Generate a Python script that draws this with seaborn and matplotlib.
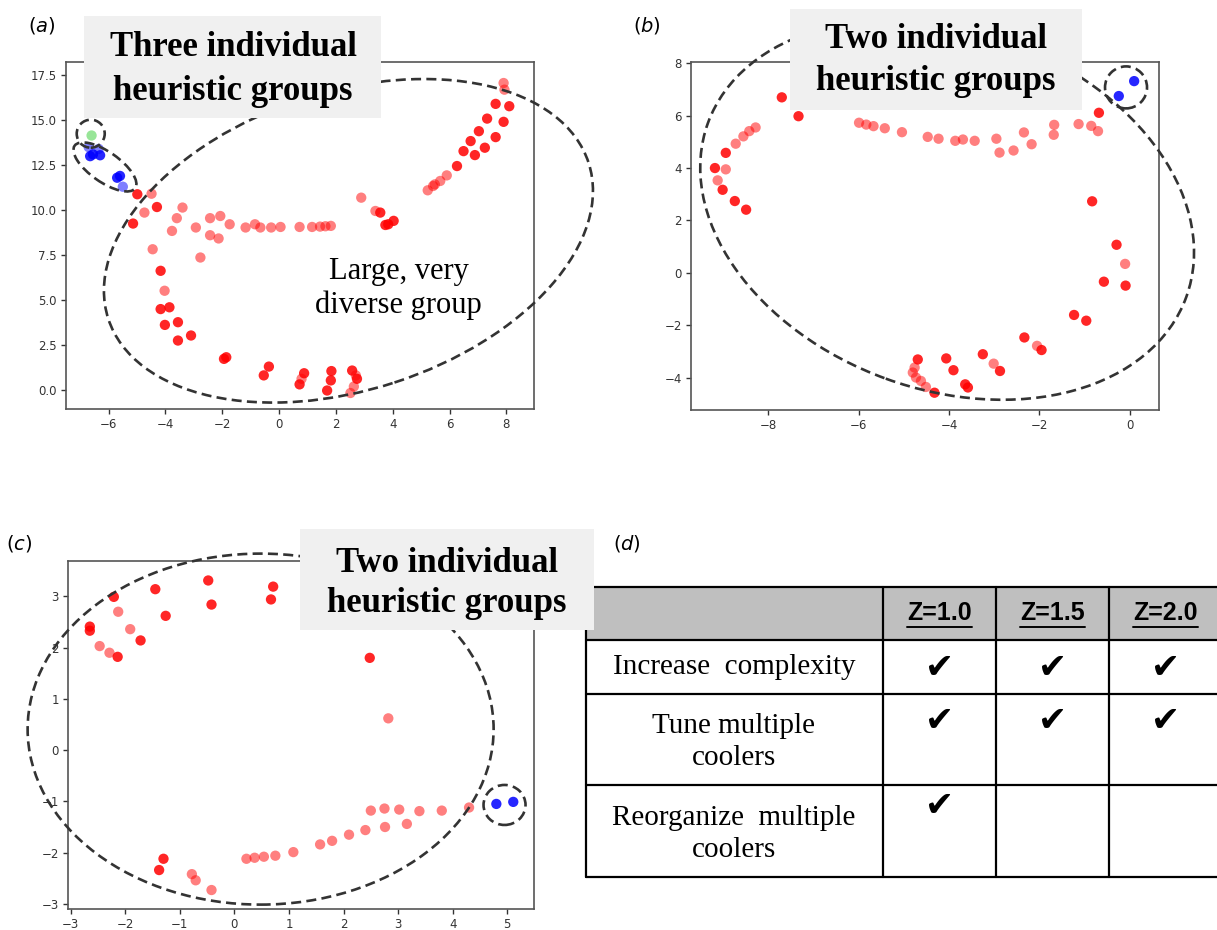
import pandas as pd
import matplotlib.pyplot as plt
import seaborn as sns
from matplotlib.patches import Ellipse, Rectangle
from matplotlib.transforms import ScaledTranslation, IdentityTransform
from matplotlib.lines import Line2D

# ---------------- data ----------------
# panel (a): embedding coordinates, darker markers are stacked points
a_red_dark_x = [-4.99, -4.30, -5.14, -4.17, -4.17, -3.86, -4.02, -3.56, -3.56, -3.10,
                3.74, 3.84, 4.03, 3.56, -1.94, -1.86, -0.54, -0.36, 0.72, 0.88,
                1.69, 1.82, 1.84, 2.57, 2.74, 6.26, 6.49, 6.74, 6.89, 7.03,
                7.24, 7.32, 7.62, 7.62, 7.90, 8.10]
a_red_dark_y = [10.88, 10.17, 9.25, 6.62, 4.49, 4.59, 3.61, 3.76, 2.74, 3.02,
                9.17, 9.21, 9.40, 9.86, 1.72, 1.81, 0.80, 1.29, 0.30, 0.92,
                -0.04, 0.52, 1.04, 1.07, 0.61, 12.45, 13.28, 13.84, 13.06, 14.39,
                13.47, 15.09, 14.06, 15.91, 14.91, 15.78]
a_red_light_x = [-4.49, -4.74, -4.45, -4.03, -3.77, -3.60, -3.40, -2.93, -2.77, -2.43,
                 -2.43, -2.13, -2.07, -1.74, -1.18, -0.85, -0.66, -0.28, 0.05, 0.72,
                 1.16, 1.44, 1.63, 1.82, 2.89, 3.39, 0.79, 2.51, 2.63, 2.70,
                 5.23, 5.42, 5.48, 5.67, 5.90, 7.90, 7.93]
a_red_light_y = [10.91, 9.86, 7.82, 5.51, 8.84, 9.55, 10.14, 9.03, 7.36, 9.55,
                 8.60, 8.42, 9.67, 9.21, 9.03, 9.21, 9.03, 9.03, 9.06, 9.06,
                 9.06, 9.08, 9.10, 9.12, 10.69, 9.95, 0.61, -0.18, 0.18, 0.80,
                 11.10, 11.34, 11.43, 11.62, 11.93, 17.07, 16.70]
a_blue_dark_x = [-6.65, -6.55, -6.30, -5.70, -5.60]
a_blue_dark_y = [13.00, 13.10, 13.05, 11.80, 11.90]
a_blue_light_x = [-6.70, -6.35, -5.50]
a_blue_light_y = [13.50, 13.40, 11.30]
a_green_x = [-6.60]
a_green_y = [14.15]

# panel (b)
b_red_dark_x = [-7.70, -7.33, -9.18, -8.94, -9.01, -8.74, -8.49, -0.68, -0.83, -0.29,
                -0.57, -0.09, -1.23, -0.96, -2.33, -1.95, -3.25, -2.87, -4.06, -3.90,
                -3.64, -3.58, -4.69, -4.32]
b_red_dark_y = [6.70, 5.98, 4.00, 4.58, 3.17, 2.74, 2.41, 6.11, 2.73, 1.07,
                -0.34, -0.49, -1.61, -1.83, -2.47, -2.95, -3.11, -3.75, -3.27, -3.72,
                -4.26, -4.38, -3.31, -4.58]
b_red_light_x = [-9.12, -8.94, -8.72, -8.55, -8.42, -8.28, -5.99, -5.83, -5.67, -5.42,
                 -5.04, -4.47, -4.23, -3.86, -3.69, -3.43, -2.95, -2.88, -2.57, -2.34,
                 -2.17, -1.67, -1.68, -1.13, -0.85, -0.70, -0.10, -2.05, -3.01, -4.76,
                 -4.80, -4.73, -4.62, -4.51]
b_red_light_y = [3.53, 3.95, 4.93, 5.21, 5.41, 5.55, 5.73, 5.66, 5.60, 5.52,
                 5.37, 5.19, 5.12, 5.04, 5.09, 5.04, 5.12, 4.59, 4.67, 5.36,
                 4.91, 5.65, 5.27, 5.68, 5.61, 5.41, 0.34, -2.79, -3.47, -3.62,
                 -3.81, -4.00, -4.13, -4.36]
b_blue_x = [0.10, -0.24]
b_blue_y = [7.32, 6.75]

# panel (c)
c_red_dark_x = [-2.65, -2.65, -2.21, -1.72, -2.14, -1.45, -1.26, -0.48, -0.42, 0.71,
                0.67, 2.48, -1.30, -1.38]
c_red_dark_y = [2.41, 2.33, 2.99, 2.14, 1.82, 3.14, 2.62, 3.31, 2.84, 3.19,
                2.94, 1.80, -2.12, -2.34]
c_red_light_x = [-2.13, -1.91, -2.47, -2.29, 2.82, 2.50, 2.75, 3.02, 3.39, 3.80,
                 4.30, 3.16, 2.76, 2.40, 2.10, 1.79, 1.57, 1.08, 0.75, 0.54,
                 0.37, 0.22, -0.78, -0.71, -0.42]
c_red_light_y = [2.70, 2.36, 2.03, 1.90, 0.62, -1.18, -1.14, -1.16, -1.19, -1.18,
                 -1.12, -1.44, -1.50, -1.56, -1.65, -1.77, -1.84, -1.99, -2.06, -2.08,
                 -2.10, -2.12, -2.42, -2.54, -2.73]
c_blue_x = [4.80, 5.11]
c_blue_y = [-1.05, -1.01]

# panel (d) table
z_levels = ['Z=1.0', 'Z=1.5', 'Z=2.0']
actions = ['Increase  complexity', 'Tune multiple\ncoolers', 'Reorganize  multiple\ncoolers']
checks = [[1, 1, 1],
          [1, 1, 1],
          [1, 0, 0]]

# ---------------- figure ----------------
W, H = 1217, 930
sns.set_style('ticks')
plt.rcParams['font.family'] = ['DejaVu Sans']
plt.rcParams['mathtext.fontset'] = 'dejavusans'
plt.rcParams['text.color'] = 'black'

fig = plt.figure(figsize=(W / 100, H / 100), dpi=100)
SERIF = 'Liberation Serif'


def add_ax(l, t, r, b):
    """axes from pixel box (top-left origin)"""
    ax = fig.add_axes([l / W, 1 - b / H, (r - l) / W, (b - t) / H])
    for sp in ax.spines.values():
        sp.set_color('#555555')
        sp.set_linewidth(1.2)
    ax.tick_params(labelsize=8.5, colors='#333333', length=3.5, width=1, pad=3)
    return ax


def pts(ax, xs, ys, color, alpha):
    sns.scatterplot(x=xs, y=ys, color=color, alpha=alpha, s=55, edgecolor='none',
                    linewidth=0, ax=ax, legend=False, zorder=3)


def ring(ax, cx, cy, w_px, h_px, angle):
    """dashed ellipse centred on a data point, size given in pixels"""
    tr = fig.dpi_scale_trans + ScaledTranslation(cx, cy, ax.transData)
    e = Ellipse((0, 0), w_px / 100, h_px / 100, angle=angle, transform=tr, fill=False,
                ec='#333333', lw=1.9, ls=(0, (3.8, 2.0)), clip_on=False, zorder=5)
    ax.add_artist(e)


def title_box(x0, y0, x1, y1, cx, ly1, ly2, l1, l2):
    fig.add_artist(Rectangle((x0 / W, 1 - y1 / H), (x1 - x0) / W, (y1 - y0) / H,
                             transform=fig.transFigure, fc='#f0f0f0', ec='none', zorder=10))
    for txt, yy in [(l1, ly1), (l2, ly2)]:
        fig.text(cx / W, 1 - yy / H, txt, ha='center', va='center', family=SERIF,
                 weight='bold', size=25, color='black', zorder=11)


def panel_label(x, y, letter):
    fig.text(x / W, 1 - y / H, r'($\mathit{%s}$)' % letter, ha='center', va='center',
             size=14, color='black', zorder=12)


# (a)
ax_a = add_ax(66, 62, 534, 409)
pts(ax_a, a_red_light_x, a_red_light_y, 'red', 0.5)
pts(ax_a, a_red_dark_x, a_red_dark_y, 'red', 0.85)
pts(ax_a, a_blue_light_x, a_blue_light_y, 'blue', 0.5)
pts(ax_a, a_blue_dark_x, a_blue_dark_y, 'blue', 0.85)
pts(ax_a, a_green_x, a_green_y, 'limegreen', 0.5)
ax_a.set_xlim(-7.5, 8.97)
ax_a.set_ylim(-1.07, 18.24)
ax_a.set_xticks([-6, -4, -2, 0, 2, 4, 6, 8])
ax_a.set_yticks([0, 2.5, 5, 7.5, 10, 12.5, 15, 17.5])
ax_a.set_yticklabels(['0.0', '2.5', '5.0', '7.5', '10.0', '12.5', '15.0', '17.5'])
ring(ax_a, 2.44, 8.29, 505, 298, 18)
ring(ax_a, -6.63, 14.25, 28, 28, 0)
ring(ax_a, -6.13, 12.4, 74, 30, -35)
ax_a.text(4.21, 5.66, 'Large, very\ndiverse group', ha='center', va='center',
          family=SERIF, size=22, linespacing=1.2, color='black', zorder=6)
title_box(84, 16, 381, 118, 233, 48, 91, 'Three individual', 'heuristic groups')
panel_label(42, 26, 'a')

# (b)
ax_b = add_ax(691, 62, 1159, 410)
pts(ax_b, b_red_light_x, b_red_light_y, 'red', 0.5)
pts(ax_b, b_red_dark_x, b_red_dark_y, 'red', 0.85)
pts(ax_b, b_blue_x, b_blue_y, 'blue', 0.85)
ax_b.set_xlim(-9.71, 0.65)
ax_b.set_ylim(-5.24, 8.05)
ax_b.set_xticks([-8, -6, -4, -2, 0])
ax_b.set_yticks([-4, -2, 0, 2, 4, 6, 8])
ring(ax_b, -4.04, 2.40, 509, 359, -20)
ring(ax_b, -0.08, 7.08, 42, 42, 0)
title_box(790, 9, 1082, 110, 936, 40, 82, 'Two individual', 'heuristic groups')
panel_label(647, 25, 'b')

# (c)
ax_c = add_ax(68, 561, 534, 909)
pts(ax_c, c_red_light_x, c_red_light_y, 'red', 0.5)
pts(ax_c, c_red_dark_x, c_red_dark_y, 'red', 0.85)
pts(ax_c, c_blue_x, c_blue_y, 'blue', 0.85)
ax_c.set_xlim(-3.05, 5.49)
ax_c.set_ylim(-3.1, 3.69)
ax_c.set_xticks([-3, -2, -1, 0, 1, 2, 3, 4, 5])
ax_c.set_yticks([-3, -2, -1, 0, 1, 2, 3])
ring(ax_c, 0.48, 0.41, 466, 351, 0)
ring(ax_c, 4.95, -1.07, 42, 40, 0)
title_box(300, 529, 594, 630, 447, 564, 604, 'Two individual', 'heuristic groups')
panel_label(19, 544, 'c')

# (d) table drawn in pixel space
panel_label(627, 543, 'd')
row_y = [587, 640, 694, 785, 877]
col_x = [586, 883, 996, 1109, 1222]
fig.add_artist(Rectangle((col_x[0] / W, 1 - row_y[1] / H), (col_x[-1] - col_x[0]) / W,
                         (row_y[1] - row_y[0]) / H, transform=fig.transFigure,
                         fc='#bfbfbf', ec='none', zorder=1))
for yy in row_y:
    fig.add_artist(Line2D([col_x[0] / W, col_x[-1] / W], [1 - yy / H, 1 - yy / H],
                          transform=fig.transFigure, color='black', lw=1.6, zorder=2))
for xx in col_x:
    fig.add_artist(Line2D([xx / W, xx / W], [1 - row_y[0] / H, 1 - row_y[-1] / H],
                          transform=fig.transFigure, color='black', lw=1.6, zorder=2))

head_texts = []
for j, z in enumerate(z_levels):
    cx = (col_x[j + 1] + col_x[j + 2]) / 2
    t = fig.text(cx / W, 1 - 613 / H, z, ha='center', va='center', family='Liberation Sans',
                 weight='bold', size=18, color='black', zorder=3)
    head_texts.append(t)

label_y = [667, 742, 834]
check_y = [668, 721, 806]
for i, act in enumerate(actions):
    fig.text(734 / W, 1 - label_y[i] / H, act, ha='center', va='center', family=SERIF,
             size=21, linespacing=1.3, color='black', zorder=3)
    for j in range(len(z_levels)):
        if checks[i][j]:
            cx = (col_x[j + 1] + col_x[j + 2]) / 2
            fig.text(cx / W, 1 - check_y[i] / H, '\u2714', ha='center', va='center',
                     family=['DejaVu Sans'], size=25, color='black', zorder=3)

# underline the Z headers
fig.canvas.draw()
rend = fig.canvas.get_renderer()
for t in head_texts:
    bb = t.get_window_extent(rend)
    yline = bb.y0 - 2
    fig.add_artist(Line2D([bb.x0, bb.x1], [yline, yline], transform=IdentityTransform(),
                          color='black', lw=1.4, zorder=3))

fig.savefig('out.png', dpi=100)
